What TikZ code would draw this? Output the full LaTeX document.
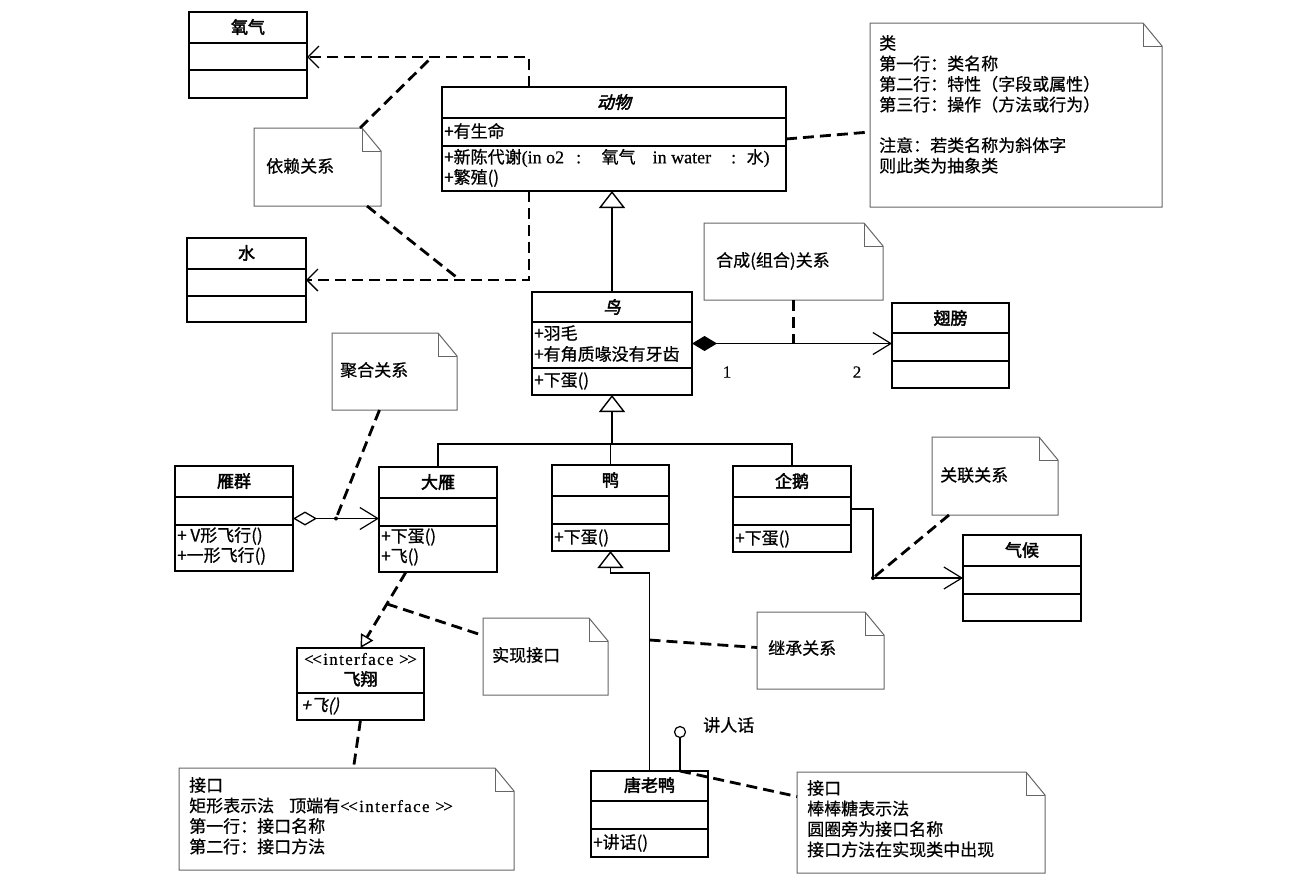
\documentclass[tikz,border=0pt]{standalone}
\usepackage{fontspec}
\setmainfont[FakeBold=0.6]{Noto Sans CJK SC}
\newfontfamily\cjkb[FakeBold=2.4]{Noto Sans CJK SC}
\newfontfamily\cjkbi[FakeBold=2.4,FakeSlant=0.22]{Noto Sans CJK SC}
\newfontfamily\cjki[FakeBold=0.6,FakeSlant=0.22]{Noto Sans CJK SC}
\newfontfamily\lat[LetterSpace=8,FakeBold=0.4]{Liberation Serif}
\newfontfamily\latplain[FakeBold=0.4]{Liberation Serif}
\usetikzlibrary{arrows.meta,calc}

\tikzset{
  clsbox/.style={draw, line width=1.8pt, inner sep=0pt, outer sep=0pt},
  divl/.style={line width=1.5pt},
  notebd/.style={draw=black!60, line width=1pt},
  dashl/.style={line width=2.8pt, dash pattern=on 11pt off 6pt},
  solidl/.style={line width=1.2pt},
  txt/.style={inner sep=0pt, anchor=west},
  ttl/.style={inner sep=0pt, font=\fontsize{17}{20}\selectfont\cjkb},
  ttli/.style={inner sep=0pt, font=\fontsize{17}{20}\selectfont\cjkbi},
  depbarb/.tip={Straight Barb[length=11pt,width=22pt,line width=1.3pt]},
  assocbarb/.tip={Straight Barb[length=18pt,width=22pt,line width=1.2pt]},
  bigtri/.tip={Triangle[open,length=17pt,width=26pt,line width=1.4pt]},
  smalltri/.tip={Triangle[open,length=13pt,width=14pt,line width=1.4pt]},
  fdiamond/.tip={Diamond[length=25pt,width=15pt]},
  odiamond/.tip={Diamond[open,length=24pt,width=14pt,line width=1.3pt]},
}

\newcommand\ltlt{<\kern-1.5pt<}
\newcommand\gtgt{>\kern-1.5pt>}
\newcommand\latbig{\fontsize{18}{20}\selectfont\latplain}

% name, x1, y1, x2, y2, divider1, divider2
\newcommand\umlclass[7]{%
  \node[clsbox, minimum width={#4-#2}, minimum height={#5-#3}] (#1) at ({(#2+#4)/2},{(#3+#5)/2}) {};
  \draw[divl] (#2,#6) -- (#4,#6);
  \draw[divl] (#2,#7) -- (#4,#7);
}
% name, x1, y1, x2, y2
\newcommand\umlnote[5]{%
  \node[inner sep=0pt, outer sep=0pt, minimum width={#4-#2}, minimum height={#5-#3}] (#1) at ({(#2+#4)/2},{(#3+#5)/2}) {};
  \draw[notebd] (#1.north west) -- ([xshift=-19pt]#1.north east) -- ([yshift=-23pt]#1.north east) -- (#1.south east) -- (#1.south west) -- cycle;
  \draw[notebd] ([xshift=-19pt]#1.north east) |- ([yshift=-23pt]#1.north east);
}

\begin{document}
\begin{tikzpicture}[x=1pt, y=-1pt, font=\fontsize{17}{20.5}\selectfont]
\path[use as bounding box, fill=white] (0,0) rectangle (1289,881);

% ---------------- classes ----------------
\umlclass{oxy}{189}{12}{307}{98}{43}{70}
\node[ttl] at (248,27) {氧气};

\umlclass{water}{187}{238}{306}{322}{269}{296}
\node[ttl] at (246.5,253) {水};

\umlclass{animal}{442}{87}{786}{191}{118}{146}
\node[ttli] at (614,102) {动物};
\node[txt] at (444,131) {+有生命};
\node[txt] at (444,158) {+新陈代谢\makebox[80pt][l]{\latbig(in o2\hspace{12pt}:}氧气\makebox[17pt][l]{}\makebox[94pt][l]{\latbig in water\hspace{20pt}:}水{\latbig)}};
\node[txt] at (444,178) {+繁殖()};

\umlclass{bird}{532}{292}{692}{395}{322}{368}
\node[ttli] at (612,307) {鸟};
\node[txt] at (534,333) {+羽毛};
\node[txt] at (534,354) {+有角质喙没有牙齿};
\node[txt] at (534,381) {+下蛋()};

\umlclass{wing}{892}{303}{1009}{388}{333}{361}
\node[ttl] at (950.5,318) {翅膀};

\umlclass{flock}{175}{466}{293}{571}{497}{525}
\node[ttl] at (234,481) {雁群};
\node[txt] at (177,536) {+ V形飞行()};
\node[txt] at (177,556) {+一形飞行()};

\umlclass{goose}{379}{467}{497}{572}{498}{526}
\node[ttl] at (438,482) {大雁};
\node[txt] at (381,537) {+下蛋()};
\node[txt] at (381,557) {+飞()};

\umlclass{duck}{552}{465}{669}{551}{496}{524}
\node[ttl] at (610.5,480) {鸭};
\node[txt] at (554,538) {+下蛋()};

\umlclass{penguin}{733}{466}{851}{552}{497}{525}
\node[ttl] at (792,481) {企鹅};
\node[txt] at (735,539) {+下蛋()};

\umlclass{climate}{963}{535}{1081}{621}{566}{594}
\node[ttl] at (1022,550) {气候};

\node[clsbox, minimum width=127, minimum height=72] (iface) at (360.5,684) {};
\draw[divl] (297,693) -- (424,693);
\node[inner sep=0pt, font=\fontsize{17}{20}\selectfont\lat] at (360.5,659) {\ltlt interface \gtgt};
\node[ttl] at (360.5,679) {飞翔};
\node[txt, font=\fontsize{17}{20}\selectfont\cjki] at (301,706) {+飞()};

\umlclass{donald}{591}{771}{708}{857}{801}{829}
\node[ttl] at (649.5,785) {唐老鸭};
\node[txt] at (593,843) {+讲话()};

% ---------------- notes ----------------
\umlnote{depnote}{254}{128}{381}{206}
\node[txt] at (266,166) {依赖关系};

\umlnote{clsnote}{870}{23}{1162}{207}
\node[inner sep=0pt, anchor=north west, align=left] at (879,35) {类\\第一行：类名称\\第二行：特性（字段或属性）\\第三行：操作（方法或行为）};
\node[inner sep=0pt, anchor=north west, align=left] at (879,137) {注意：若类名称为斜体字\\则此类为抽象类};

\umlnote{compnote}{704}{223}{883}{300}
\node[txt] at (716,261) {合成(组合)关系};

\umlnote{aggnote}{332}{333}{457}{410}
\node[txt] at (340,370) {聚合关系};

\umlnote{assocnote}{932}{437}{1058}{515}
\node[txt] at (940,475) {关联关系};

\umlnote{realnote}{483}{618}{608}{695}
\node[txt] at (492,655) {实现接口};

\umlnote{inhnote}{757}{612}{884}{689}
\node[txt] at (768,648) {继承关系};

\umlnote{ifnote}{179}{768}{514}{870}
\node[inner sep=0pt, anchor=north west, align=left] at (189,777) {接口\\矩形表示法\hspace{15pt}顶端有{\fontsize{17}{20}\selectfont\lat \ltlt interface \gtgt}\\第一行：接口名称\\第二行：接口方法};

\umlnote{lolnote}{797}{772}{1045}{873}
\node[inner sep=0pt, anchor=north west, align=left] at (807,780) {接口\\棒棒糖表示法\\圆圈旁为接口名称\\接口方法在实现类中出现};

% ---------------- connectors ----------------
% dependency
\draw[dashl, -{depbarb}] ([xshift=87pt]animal.north west) |- ([yshift=-2pt]oxy.east);
\draw[dashl, -{depbarb}] ([xshift=87pt]animal.south west) |- (water.east);
\coordinate (dj1) at (432,57);
\coordinate (dj2) at (460,280);
\draw[dashl] ([xshift=-21pt]depnote.north east) -- (dj1);
\draw[dashl] ([xshift=-14pt]depnote.south east) -- (dj2);

% class note
\draw[dashl] (animal.east) -- ([yshift=-17pt]clsnote.west);

% generalization bird -> animal
\draw[solidl, -{bigtri}] (bird.north) -- (bird.north |- animal.south);

% composition
\draw[solidl, {fdiamond}-{assocbarb}] (bird.east) -- (bird.east -| wing.west);
\draw[dashl] (compnote.south) -- (compnote.south |- bird.east);
\node[inner sep=0pt, font=\fontsize{17}{20}\selectfont\latplain] at (727,372) {1};
\node[inner sep=0pt, font=\fontsize{17}{20}\selectfont\latplain] at (857,372) {2};

% inheritance tree
\coordinate (bar) at (612,444);
\draw[solidl] (goose.north) |- (bar) -| (penguin.north);
\draw[solidl] (duck.north) -- (duck.north |- bar);
\draw[solidl, -{bigtri}] (bar) -- (bar |- bird.south);

% donald -> duck
\draw[solidl, -{bigtri}] (donald.north) |- ([yshift=-22pt]duck.south) -- (duck.south);
\coordinate (ij) at (649.5,640);
\draw[dashl] (ij) -- ([yshift=3pt]inhnote.west);

% lollipop
\node[draw, circle, minimum size=11pt, inner sep=0pt, line width=1.2pt] (lolli) at (680,732) {};
\coordinate (lj) at (lolli.south |- donald.north);
\draw[solidl] (lolli.south) -- (lj);
\node[txt] at (703,725) {讲人话};
\draw[dashl] (lj) -- ([yshift=26pt]lolnote.west);

% aggregation
\draw[solidl, {odiamond}-{assocbarb}] (flock.east) -- (flock.east -| goose.west);
\coordinate (aj) at (336,518.5);
\draw[dashl] ([xshift=-15pt]aggnote.south) -- (aj);
\fill (aj) circle (2pt);

% realization
\draw[dashl, -{smalltri}] ([xshift=-32pt]goose.south) -- node[coordinate, pos=0.42] (rj) {} (iface.north);
\draw[dashl] (rj) -- ([yshift=21pt]realnote.west);
\draw[dashl] (iface.south) -- ([xshift=7pt]ifnote.north);

% association
\draw[solidl, -{assocbarb}] (penguin.east) -- ++(22,0) coordinate (sj) |- (climate.west);
\coordinate (sj2) at (sj |- climate.west);
\draw[dashl] ([xshift=-46pt]assocnote.south) -- (sj2);
\fill (sj2) circle (2pt);
\end{tikzpicture}
\end{document}
